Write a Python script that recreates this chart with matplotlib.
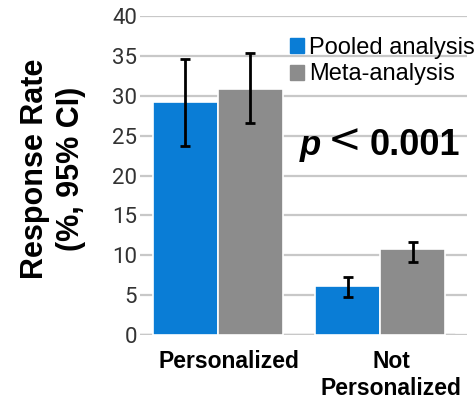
import numpy as np
import matplotlib
matplotlib.use('Agg')
import matplotlib.pyplot as plt
import matplotlib.transforms as mtrans
from matplotlib.patches import Patch

# data
groups = ['Personalized', 'Not\nPersonalized']
series = ['Pooled analysis', 'Meta-analysis']
pooled = [29.2, 6.1]
pooled_lo = [23.7, 4.8]
pooled_hi = [34.6, 7.3]
meta = [30.9, 10.8]
meta_lo = [26.6, 9.1]
meta_hi = [35.4, 11.6]
yticks = [0, 5, 10, 15, 20, 25, 30, 35, 40]

blue = '#0A7DD6'
grey = '#8C8C8C'
gridc = '#C8C8C8'

fig = plt.figure(figsize=(4.75, 4.01), dpi=100)
ax = fig.add_axes([140/475, 1-335/401, 327/475, 319/401])

x = np.arange(len(groups))
w = 0.4
for vals, lo, hi, off, col in ((pooled, pooled_lo, pooled_hi, -w/2, blue),
                               (meta, meta_lo, meta_hi, w/2, grey)):
    vals = np.array(vals)
    err = [vals-np.array(lo), np.array(hi)-vals]
    ax.bar(x+off, vals, w, color=col, edgecolor='white', linewidth=1.2, zorder=3)
    ax.errorbar(x+off, vals, yerr=err, fmt='none', ecolor='black',
                elinewidth=2, capsize=3.5, capthick=2, zorder=4)

ax.set_xlim(-0.477, 1.535)
ax.set_ylim(0, 40)
ax.set_yticks(yticks)
ax.yaxis.grid(True, color=gridc, linewidth=1.6, zorder=0)
ax.set_axisbelow(True)
for s in ax.spines.values():
    s.set_visible(False)
ax.axhline(0, xmin=0, xmax=313/327, color=gridc, linewidth=2.5, zorder=2)

ax.tick_params(axis='y', length=0, pad=2, labelsize=16, labelcolor='#333333')
for t in ax.get_yticklabels():
    t.set_family('Roboto')
ax.set_xticks(x)
ax.set_xticklabels(groups, fontsize=16.5, fontweight='bold', family='Liberation Sans',
                   linespacing=1.2)
ax.tick_params(axis='x', length=0, pad=11)
shift = mtrans.ScaledTranslation(11/100, 0, fig.dpi_scale_trans)
for t in ax.get_xticklabels():
    t.set_transform(t.get_transform() + shift)

ax.set_ylabel('Response Rate\n(%, 95% CI)', fontsize=22, fontweight='bold',
              family='Liberation Sans', linespacing=1.25)
ax.yaxis.set_label_coords(-0.165, 0.52)

handles = [Patch(color=blue), Patch(color=grey)]
leg = ax.legend(handles, series, loc='upper left', bbox_to_anchor=(0.43, 0.965),
                frameon=False, handlelength=0.6, handleheight=0.6,
                handletextpad=0.2, labelspacing=0.2, borderaxespad=0,
                prop={'family': 'Liberation Sans', 'size': 17})

ax.text(0.635, 22.6, 'p', fontsize=25, fontweight='bold', fontstyle='italic',
        family='Liberation Sans', ha='right', va='baseline')
ax.text(0.68, 22.9, '<', fontsize=29, family='DejaVu Sans',
        ha='left', va='baseline')
ax.text(0.935, 22.6, '0.001', fontsize=26, fontweight='bold',
        family='Liberation Sans', ha='left', va='baseline')

fig.savefig('out.png', dpi=100)
